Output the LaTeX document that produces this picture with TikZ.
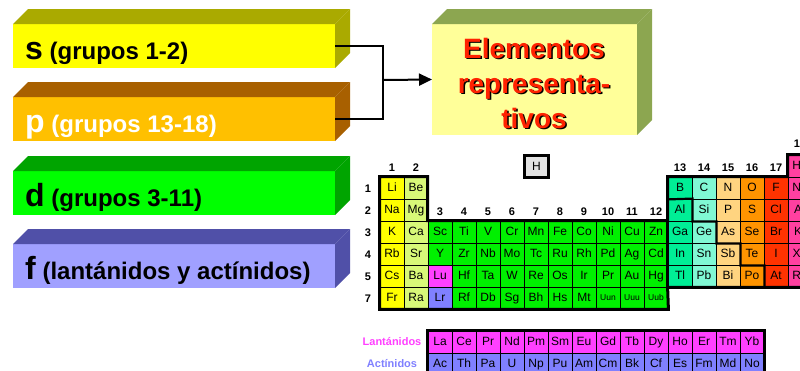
\documentclass[tikz,border=0pt]{standalone}
\usepackage{fontspec}
\setmainfont{Liberation Sans}
\usepackage{xcolor}
\usepackage{tikz}
\usetikzlibrary{positioning,arrows.meta}
\definecolor{sfront}{HTML}{FFFF00}
\definecolor{sside}{HTML}{AAAA00}
\definecolor{pfront}{HTML}{FFC000}
\definecolor{pside}{HTML}{A86000}
\definecolor{dfront}{HTML}{00FF00}
\definecolor{dside}{HTML}{00A400}
\definecolor{ffront}{HTML}{A0A0FF}
\definecolor{fside}{HTML}{5050A8}
\definecolor{efront}{HTML}{FFFF99}
\definecolor{eside}{HTML}{8CA650}
\definecolor{ered}{HTML}{FF2200}
\definecolor{hgray}{HTML}{E2E2E2}
\definecolor{g1}{HTML}{FFFF00}
\definecolor{g2}{HTML}{D8F878}
\definecolor{g3}{HTML}{00F000}
\colorlet{g4}{g3}\colorlet{g5}{g3}\colorlet{g6}{g3}\colorlet{g7}{g3}\colorlet{g8}{g3}
\colorlet{g9}{g3}\colorlet{g10}{g3}\colorlet{g11}{g3}\colorlet{g12}{g3}
\definecolor{g13}{HTML}{00EE96}
\definecolor{g14}{HTML}{80F8D4}
\definecolor{g15}{HTML}{FFD480}
\definecolor{g16}{HTML}{FF9400}
\definecolor{g17}{HTML}{FF3300}
\definecolor{g18}{HTML}{FF40A0}
\definecolor{lanc}{HTML}{FF40FF}
\definecolor{actc}{HTML}{8080FF}
\tikzset{
  blk/.style={anchor=north west, minimum width=322pt, minimum height=44pt, inner sep=0pt, outer sep=0pt},
  blktxt/.style={anchor=base west, inner sep=0pt, font=\bfseries\fontsize{24}{24}\selectfont},
  eblk/.style={anchor=north west, minimum width=205pt, minimum height=111pt, inner sep=0pt, outer sep=0pt, fill=efront},
  etxt/.style={align=center, inner sep=0pt, font=\bfseries\fontsize{28}{35}\selectfont},
  conn/.style={draw=black, line width=2pt},
  cell/.style={draw=black, line width=0.8pt, minimum width=24pt, minimum height=22pt, inner sep=0pt,
    text height=8.6pt, text depth=2.4pt, font=\fontsize{12}{12}\selectfont},
  cellsm/.style={cell, text height=6.2pt, text depth=1.8pt, font=\fontsize{8.5}{8.5}\selectfont},
  hdr/.style={inner sep=0pt, text height=8pt, text depth=0pt, font=\bfseries\fontsize{11}{11}\selectfont},
  flbl/.style={inner sep=0pt, font=\bfseries\fontsize{11}{11}\selectfont},
  hbox/.style={draw=black, line width=3pt, fill=hgray, minimum width=24pt, minimum height=22pt, inner sep=0pt, font=\fontsize{12}{12}\selectfont},
  outl/.style={line width=3pt, line join=miter},
  stair/.style={line width=2.2pt}
}

\begin{document}
\begin{tikzpicture}[x=1pt, y=-1pt]
  \useasboundingbox (0,0) rectangle (800,370);
  \clip (0,0) rectangle (800,370);
  \foreach \n/\y/\fc/\sc in {s/24/sfront/sside, p/97/pfront/pside, d/171/dfront/dside, f/244/ffront/fside} {
    \node[blk, fill=\fc] (\n) at (13,\y) {};
    \fill[\sc] (\n.north west) -- ++(15,-15) -- ([shift={(15,-15)}]\n.north east) -- (\n.north east) -- cycle;
    \fill[\sc] (\n.north east) -- ++(15,-15) -- ([shift={(15,-15)}]\n.south east) -- (\n.south east) -- cycle;
  }
  \node[blktxt] (stxt) at (25,59) {{\fontsize{32}{32}\selectfont s} (grupos 1-2)};
  \node[blktxt, text=white] (ptxt) at (25,132) {{\fontsize{32}{32}\selectfont p} (grupos 13-18)};
  \node[blktxt] (dtxt) at (25,206) {{\fontsize{32}{32}\selectfont d} (grupos 3-11)};
  \node[blktxt] (ftxt) at (25,279) {{\fontsize{32}{32}\selectfont f} (lantánidos y actínidos)};

  \node[eblk] (elem) at (432,24) {};
  \fill[eside] (elem.north west) -- ++(15,-15) -- ([shift={(15,-15)}]elem.north east) -- (elem.north east) -- cycle;
  \fill[eside] (elem.north east) -- ++(15,-15) -- ([shift={(15,-15)}]elem.south east) -- (elem.south east) -- cycle;
  \node[etxt, text=black] (eshd) at (535.5,84.5) {Elementos\\representa-\\tivos};
  \node[etxt, text=ered] (elbl) at (534,83) {Elementos\\representa-\\tivos};

  \coordinate (jn) at (383,80);
  \draw[conn] (s.east) -| (jn);
  \draw[conn] (p.east) -| (jn);
  \draw[conn, -{Triangle[length=13pt, width=12pt]}] (jn) -- (elem.west);

  \node[hbox] (H) at (536.5,166.5) {H};

  \node[cell, fill=g18] (He) at (800,166) {He};
  \foreach \el/\c in {Li/1,Be/2,B/13,C/14,N/15,O/16,F/17,Ne/18}
    \node[cell, fill=g\c] (\el) at ({368+24*\c},188) {\el};
  \foreach \el/\c in {Na/1,Mg/2,Al/13,Si/14,P/15,S/16,Cl/17,Ar/18}
    \node[cell, fill=g\c] (\el) at ({368+24*\c},210) {\el};
  \foreach \el [count=\c] in {K,Ca,Sc,Ti,V,Cr,Mn,Fe,Co,Ni,Cu,Zn,Ga,Ge,As,Se,Br,Kr}
    \node[cell, fill=g\c] (\el) at ({368+24*\c},232) {\el};
  \foreach \el [count=\c] in {Rb,Sr,Y,Zr,Nb,Mo,Tc,Ru,Rh,Pd,Ag,Cd,In,Sn,Sb,Te,I,Xe}
    \node[cell, fill=g\c] (\el) at ({368+24*\c},254) {\el};
  \foreach \el/\c in {Cs/1,Ba/2,Hf/4,Ta/5,W/6,Re/7,Os/8,Ir/9,Pr/10,Au/11,Hg/12,Tl/13,Pb/14,Bi/15,Po/16,At/17,Rn/18}
    \node[cell, fill=g\c] (\el) at ({368+24*\c},276) {\el};
  \node[cell, fill=lanc] (Lu) at (440,276) {Lu};
  \foreach \el/\c in {Fr/1,Ra/2,Rf/4,Db/5,Sg/6,Bh/7,Hs/8,Mt/9}
    \node[cell, fill=g\c] (\el) at ({368+24*\c},298) {\el};
  \node[cell, fill=actc] (Lr) at (440,298) {Lr};
  \foreach \el/\c in {Uun/10,Uuu/11,Uub/12}
    \node[cellsm, fill=g\c] (\el) at ({368+24*\c},298) {\el};

  \draw[outl] (Li.north west) -| (Sc.north west) -| (B.north west) -| (He.north west)
    -- (He.north east) -- (Rn.south east) -- (Tl.south west) -- (Uub.south east)
    -- (Fr.south west) -- cycle;
  \draw[outl] (Ga.north west) -- (Tl.south west);
  \draw[stair] (B.south west) -- (Al.north east) -- (Al.south east) -- (Si.south east)
    -- (Ge.south east) -- (As.south east) -- (Sb.south east) -- (Te.south east) -- (Po.south east);

  \foreach \c in {1,2,13,14,15,16,17}
    \node[hdr] (h\c) at ({368+24*\c},167) {\c};
  \foreach \c in {3,...,12}
    \node[hdr] (h\c) at ({368+24*\c},211) {\c};
  \node[hdr] (h18) at (800,143) {18};
  \foreach \r/\y in {1/188,2/210,3/232,4/254,5/276,7/298}
    \node[hdr] (r\r) at (368,\y) {\r};

  \foreach \el [count=\c] in {La,Ce,Pr,Nd,Pm,Sm,Eu,Gd,Tb,Dy,Ho,Er,Tm,Yb}
    \node[cell, fill=lanc] (ln\c) at ({416+24*\c},342) {\el};
  \foreach \el [count=\c] in {Ac,Th,Pa,U,Np,Pu,Am,Cm,Bk,Cf,Es,Fm,Md,No}
    \node[cell, fill=actc] (an\c) at ({416+24*\c},364) {\el};
  \draw[outl] (ln1.north west) rectangle (an14.south east);
  \node[flbl, text=lanc] (lant) at (392,342) {Lantánidos};
  \node[flbl, text=actc] (acti) at (392,364) {Actínidos};
\end{tikzpicture}
\end{document}
